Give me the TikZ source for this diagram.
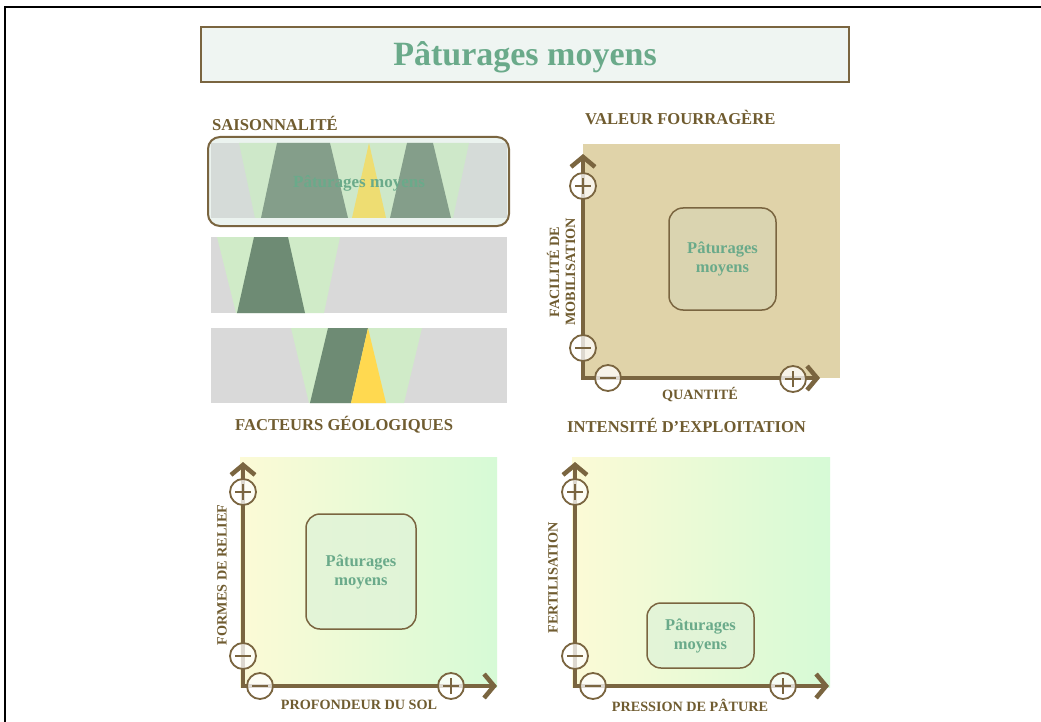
\documentclass[tikz,border=0pt]{standalone}
\usepackage{fontspec}
\setmainfont{Liberation Serif}
\usetikzlibrary{arrows.meta}
\definecolor{brn}{RGB}{122,101,64}
\definecolor{lbl}{RGB}{112,92,48}
\definecolor{grn}{RGB}{106,170,138}
\definecolor{bgray}{RGB}{217,217,217}
\definecolor{lgrn}{RGB}{208,235,200}
\definecolor{dgrn}{RGB}{110,139,116}
\definecolor{ylw}{RGB}{255,217,80}
\definecolor{fgray}{RGB}{213,219,216}
\definecolor{flgrn}{RGB}{206,232,201}
\definecolor{fdgrn}{RGB}{132,158,138}
\definecolor{fylw}{RGB}{238,221,114}
\definecolor{fbg}{RGB}{235,243,239}
\definecolor{titlebg}{RGB}{239,245,242}
\definecolor{beige}{RGB}{224,211,169}
\definecolor{beigebox}{RGB}{218,212,176}
\definecolor{gyel}{RGB}{252,250,214}
\definecolor{ggrn}{RGB}{214,250,214}
\definecolor{gbox}{RGB}{224,243,216}
\tikzset{
  hdr/.style={text=lbl, font=\bfseries\fontsize{16.6}{18}\selectfont, anchor=west, inner sep=0pt},
  axlbl/.style={text=lbl, font=\bfseries\fontsize{14.2}{16}\selectfont, align=center, inner sep=0pt},
  boxtxt/.style={text=grn, font=\bfseries\fontsize{16.5}{19}\selectfont, align=center},
  pbox/.style={draw=brn, line width=1.5pt, rounded corners=14pt, inner sep=0pt},
  axis/.style={draw=brn, line width=4.5pt, line join=miter,
    {Straight Barb[length=10pt,width=24pt]}-{Straight Barb[length=10pt,width=24pt]}},
  pmbase/.style={circle, draw=brn, line width=1.8pt, fill=white, fill opacity=0.75,
    minimum size=26pt, inner sep=0pt},
  plusc/.style={pmbase, path picture={\draw[brn,line width=1.8pt]
    ([xshift=-8pt]path picture bounding box.center) -- ([xshift=8pt]path picture bounding box.center)
    ([yshift=-8pt]path picture bounding box.center) -- ([yshift=8pt]path picture bounding box.center);}},
  minusc/.style={pmbase, path picture={\draw[brn,line width=1.8pt]
    ([xshift=-8pt]path picture bounding box.center) -- ([xshift=8pt]path picture bounding box.center);}}
}
\begin{document}
\begin{tikzpicture}[x=1pt,y=-1pt]
\useasboundingbox (0,0) rectangle (1041,722);
\fill[white] (0,0) rectangle (1041,722);
\draw[black,line width=2.5pt] (5,722) -- (5,7) -- (1041,7);

% title
\node[draw=brn, line width=1.5pt, fill=titlebg, minimum width=648pt, minimum height=55pt] (title) at (525,54.5) {};
\node[text=grn, font=\bfseries\fontsize{34}{38}\selectfont] (ttxt) at (525,57) {Pâturages moyens};

% ---------- Saisonnalite
\node[hdr] (hsai) at (212,123) {SAISONNALITÉ};
% band 1
\fill[fbg, rounded corners=12pt] (208,137) rectangle (509,226);
\fill[fgray] (211,143) rectangle (507,218);
\fill[flgrn] (239,143) -- (469,143) -- (453,218) -- (255,218) -- cycle;
\fill[fdgrn] (277,143) -- (330,143) -- (348,218) -- (261,218) -- cycle;
\fill[fdgrn] (407,143) -- (433,143) -- (451,218) -- (390,218) -- cycle;
\fill[fylw] (369,143) -- (386,218) -- (352,218) -- cycle;
\node[text=grn, font=\bfseries\fontsize{17}{19}\selectfont] (b1txt) at (359,183) {Pâturages moyens};
\draw[brn, line width=2pt, rounded corners=12pt] (208,137) rectangle (509,226);
% band 2
\fill[bgray] (211,237) rectangle (507,313);
\fill[lgrn] (217,237) -- (340,237) -- (324,313) -- (236,313) -- cycle;
\fill[dgrn] (254,237) -- (288,237) -- (305,313) -- (237,313) -- cycle;
% band 3
\fill[bgray] (211,328) rectangle (507,403);
\fill[lgrn] (291,328) -- (422,328) -- (404,403) -- (309,403) -- cycle;
\fill[dgrn] (328,328) -- (368,328) -- (351,403) -- (310,403) -- cycle;
\fill[ylw] (368,328) -- (386,403) -- (351,403) -- cycle;

% ---------- Valeur fourragere
\node[hdr] (hval) at (585,118) {VALEUR FOURRAGÈRE};
\fill[beige] (583,144) rectangle (840,378);
\coordinate (o2) at (583,378);
\coordinate (y2) at (583,154);
\coordinate (x2) at (820,378);
\draw[axis] (y2) -- (o2) -- (x2);
\node[plusc] (p2y) at (583,186) {};
\node[minusc] (m2y) at (583,348) {};
\node[minusc] (m2x) at (608,378) {};
\node[plusc] (p2x) at (793,379) {};
\node[pbox, fill=beigebox, minimum width=107pt, minimum height=102pt] (box2) at (722.5,259) {};
\node[boxtxt] (t2) at (box2) {Pâturages\\moyens};
\node[axlbl, rotate=90] (v2) at (561,272) {FACILITÉ DE\\MOBILISATION};
\node[axlbl] (q2) at (700,395) {QUANTITÉ};

% ---------- Facteurs geologiques
\node[hdr] (hgeo) at (235,425) {FACTEURS GÉOLOGIQUES};
\shade[left color=gyel, right color=ggrn] (240,457) rectangle (497,687);
\coordinate (o3) at (243,686);
\coordinate (y3) at (243,462);
\coordinate (x3) at (497,686);
\draw[axis] (y3) -- (o3) -- (x3);
\node[plusc] (p3y) at (243,492) {};
\node[minusc] (m3y) at (243,656) {};
\node[minusc] (m3x) at (260,686) {};
\node[plusc] (p3x) at (451,686) {};
\node[pbox, fill=gbox, fill opacity=0.8, minimum width=110pt, minimum height=115pt] (box3) at (361,571.5) {};
\node[boxtxt] (t3) at (box3) {Pâturages\\moyens};
\node[axlbl, rotate=90] (v3) at (222,575) {FORMES DE RELIEF};
\node[axlbl] (h3) at (359,705) {PROFONDEUR DU SOL};

% ---------- Intensite d'exploitation
\node[hdr] (hint) at (567,425) {INTENSITÉ D’EXPLOITATION};
\shade[left color=gyel, right color=ggrn] (572,457) rectangle (830,687);
\coordinate (o4) at (575,686);
\coordinate (y4) at (575,462);
\coordinate (x4) at (829,686);
\draw[axis] (y4) -- (o4) -- (x4);
\node[plusc] (p4y) at (575,492) {};
\node[minusc] (m4y) at (575,656) {};
\node[minusc] (m4x) at (593,686) {};
\node[plusc] (p4x) at (783,686) {};
\node[pbox, fill=gbox, fill opacity=0.8, minimum width=107pt, minimum height=65pt] (box4) at (700.5,635.5) {};
\node[boxtxt] (t4) at (box4) {Pâturages\\moyens};
\node[axlbl, rotate=90] (v4) at (553,578) {FERTILISATION};
\node[axlbl] (h4) at (690,705) {PRESSION DE PÂTURE};
\end{tikzpicture}
\end{document}
